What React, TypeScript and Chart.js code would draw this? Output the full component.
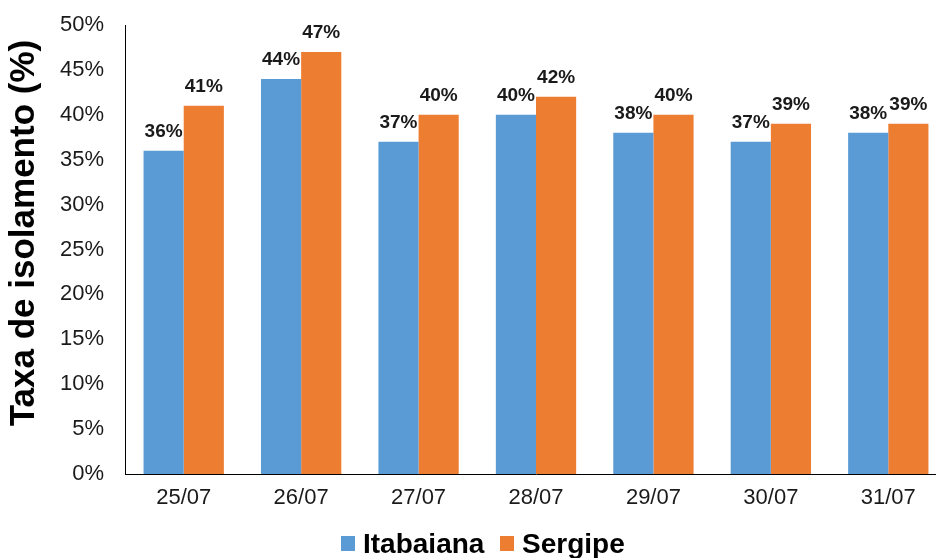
import React, { useEffect, useRef } from "react";
import { Chart, registerables } from "chart.js";

Chart.register(...registerables);

const categories = ["25/07", "26/07", "27/07", "28/07", "29/07", "30/07", "31/07"];
const itabaiana = [36, 44, 37, 40, 38, 37, 38];
const sergipe = [41, 47, 40, 42, 40, 39, 39];
const seriesNames = ["Itabaiana", "Sergipe"];
const seriesColors = ["#5B9BD5", "#ED7D31"];
const yTitle = "Taxa de isolamento (%)";

const FONT = "'Liberation Sans', Arial, sans-serif";

const overlayPlugin = {
  id: "overlay",
  afterDatasetsDraw(chart: any) {
    const ctx = chart.ctx;
    ctx.save();
    // data labels
    ctx.font = `bold 19px ${FONT}`;
    ctx.fillStyle = "#1a1a1a";
    ctx.textAlign = "center";
    ctx.textBaseline = "alphabetic";
    chart.data.datasets.forEach((ds: any, di: number) => {
      const meta = chart.getDatasetMeta(di);
      meta.data.forEach((bar: any, i: number) => {
        ctx.fillText(ds.data[i] + "%", bar.x, bar.y - 14);
      });
    });
    // y title
    ctx.save();
    ctx.translate(24, 233);
    ctx.rotate(-Math.PI / 2);
    ctx.font = `bold 35px ${FONT}`;
    ctx.fillStyle = "#000";
    ctx.textAlign = "center";
    ctx.textBaseline = "middle";
    ctx.fillText(yTitle, 0, 0);
    ctx.restore();
    // legend
    ctx.font = `bold 28px ${FONT}`;
    ctx.textAlign = "left";
    ctx.textBaseline = "alphabetic";
    const boxX = [341, 500];
    seriesNames.forEach((name, i) => {
      ctx.fillStyle = seriesColors[i];
      ctx.fillRect(boxX[i], 536, 14, 15);
      ctx.fillStyle = "#000";
      ctx.fillText(name, boxX[i] + 22, 553);
    });
    ctx.restore();
  },
};

export default function App() {
  const ref = useRef<HTMLCanvasElement | null>(null);
  useEffect(() => {
    if (!ref.current) return;
    const chart = new Chart(ref.current, {
      type: "bar",
      data: {
        labels: categories,
        datasets: [
          {
            label: seriesNames[0],
            data: itabaiana,
            backgroundColor: seriesColors[0],
            categoryPercentage: 0.684,
            barPercentage: 1,
          },
          {
            label: seriesNames[1],
            data: sergipe,
            backgroundColor: seriesColors[1],
            categoryPercentage: 0.684,
            barPercentage: 1,
          },
        ],
      },
      options: {
        animation: false,
        responsive: false,
        devicePixelRatio: 1,
        layout: { padding: { top: 25, right: 0, bottom: 0, left: 0 } },
        plugins: { legend: { display: false }, tooltip: { enabled: false } },
        scales: {
          x: {
            grid: { display: false, drawTicks: false },
            border: { display: true, color: "#000", width: 1 },
            ticks: {
              color: "#1a1a1a",
              font: { family: FONT, size: 22 },
              padding: 11,
            },
            afterFit(scale: any) {
              scale.height = 84;
              scale.paddingLeft = 0;
              scale.paddingRight = 0;
            },
          },
          y: {
            min: 0,
            max: 50,
            grid: { display: false, drawTicks: false },
            border: { display: true, color: "#000", width: 1 },
            ticks: {
              stepSize: 5,
              color: "#1a1a1a",
              font: { family: FONT, size: 22 },
              padding: 21,
              callback: (v: any) => v + "%",
            },
            afterFit(scale: any) {
              scale.width = 125;
              scale.paddingTop = 0;
              scale.paddingBottom = 0;
            },
          },
        },
      },
      plugins: [overlayPlugin],
    });
    return () => chart.destroy();
  }, []);
  return (
    <div
      style={{
        position: "fixed",
        left: 0,
        top: 0,
        width: 936,
        height: 558,
        overflow: "hidden",
        background: "#fff",
      }}
    >
      <canvas ref={ref} width={947} height={558} style={{ display: "block", width: 947, height: 558 }} />
    </div>
  );
}
